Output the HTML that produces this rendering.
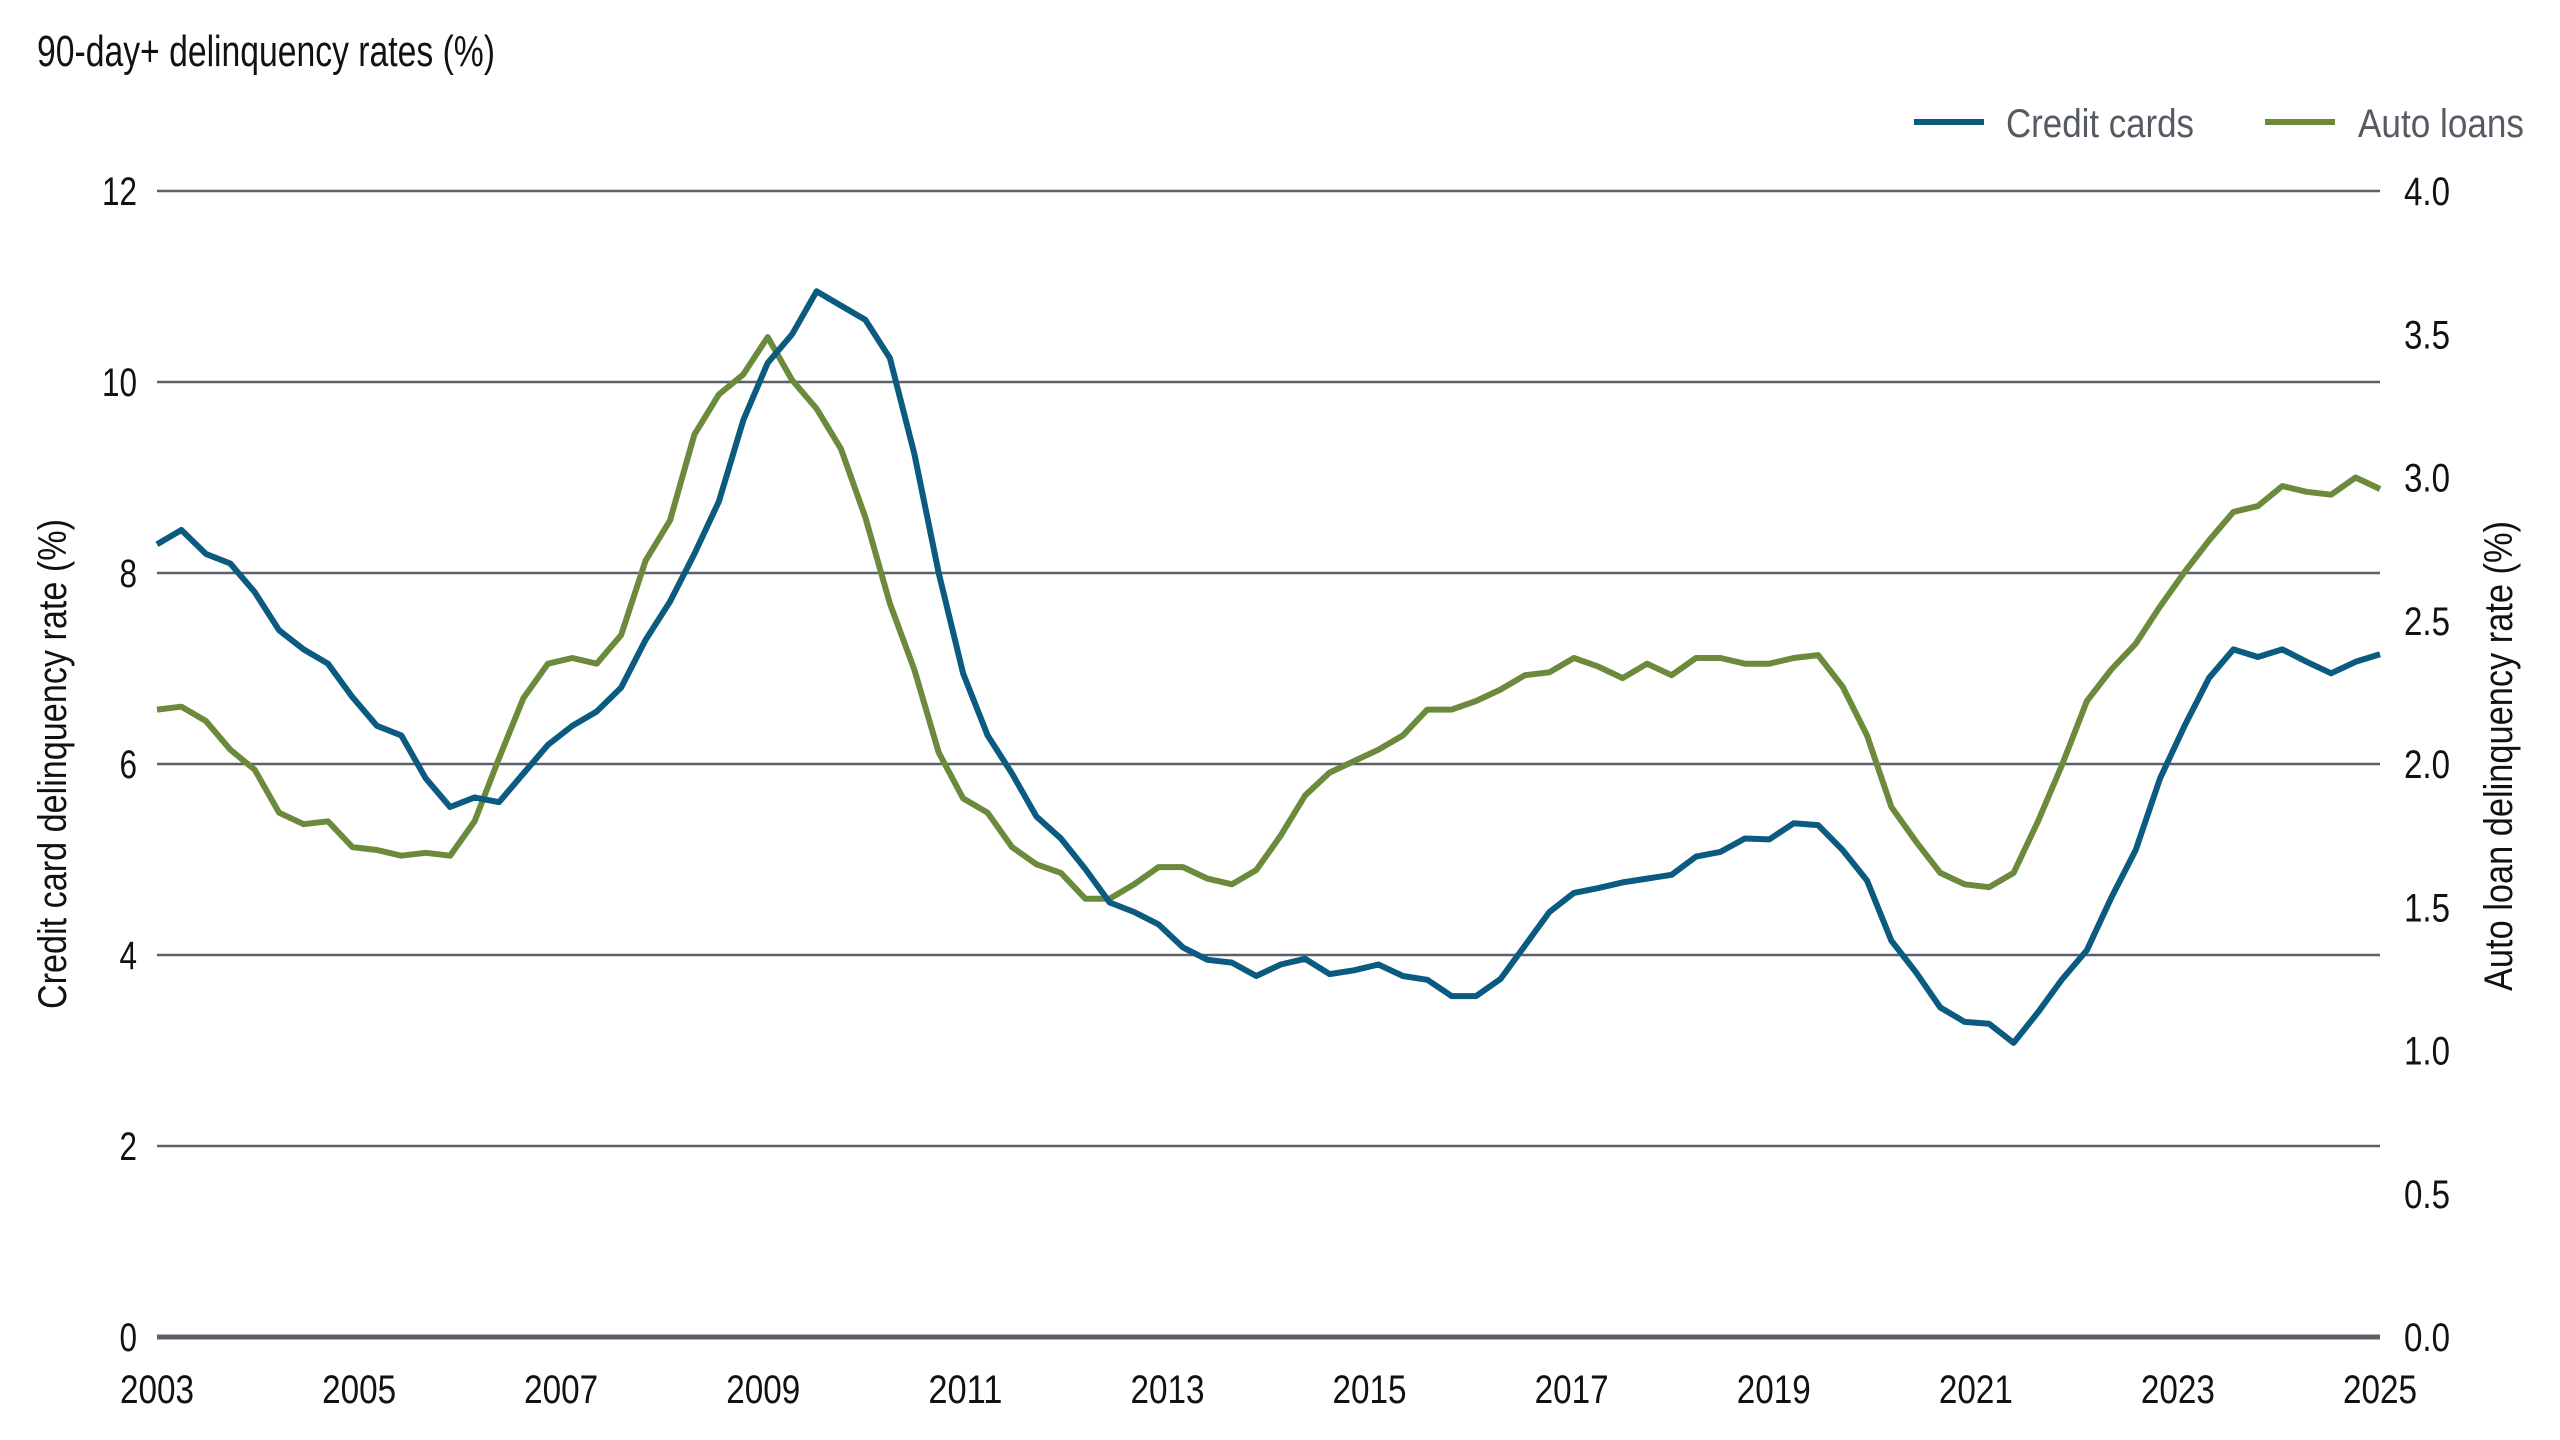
<!DOCTYPE html>
<html><head><meta charset="utf-8"><style>
html,body{margin:0;padding:0;background:#fff;}
svg{display:block;font-family:"Liberation Sans",sans-serif;}
</style></head><body>
<svg id="chart" width="2560" height="1440" viewBox="0 0 2560 1440" xmlns="http://www.w3.org/2000/svg">
<text x="37" y="66" font-size="44" fill="#111" textLength="458" lengthAdjust="spacingAndGlyphs">90-day+ delinquency rates (%)</text>
<g>
<line x1="1914" y1="122" x2="1984" y2="122" stroke="#0b5a80" stroke-width="6"/>
<text x="2006" y="137" font-size="40" fill="#555a63" textLength="188" lengthAdjust="spacingAndGlyphs">Credit cards</text>
<line x1="2265" y1="122" x2="2335" y2="122" stroke="#6b8a3c" stroke-width="6"/>
<text x="2358" y="137" font-size="40" fill="#555a63" textLength="166" lengthAdjust="spacingAndGlyphs">Auto loans</text>
</g>
<text transform="translate(66,764) rotate(-90)" text-anchor="middle" font-size="40" fill="#111" textLength="490" lengthAdjust="spacingAndGlyphs">Credit card delinquency rate (%)</text>
<text transform="translate(2512,756) rotate(-90)" text-anchor="middle" font-size="40" fill="#111" textLength="470" lengthAdjust="spacingAndGlyphs">Auto loan delinquency rate (%)</text>
<g id="grid"></g><g id="series"></g><g id="labels"></g>
</svg>
<script>
const leftTicks = [0,2,4,6,8,10,12];
const rightTicks = ["0.0","0.5","1.0","1.5","2.0","2.5","3.0","3.5","4.0"];
const yearLabels = [2003,2005,2007,2009,2011,2013,2015,2017,2019,2021,2023,2025];
const creditCards = [8.3,8.45,8.2,8.1,7.8,7.4,7.2,7.05,6.7,6.4,6.3,5.85,5.55,5.65,5.6,5.9,6.2,6.4,6.55,6.8,7.3,7.7,8.2,8.75,9.6,10.2,10.5,10.95,
10.8,10.65,10.25,9.25,8.0,6.95,6.3,5.9,5.45,5.22,4.9,4.55,4.45,4.32,4.08,3.95,3.92,3.78,3.9,3.96,3.8,3.84,3.9,3.78,3.74,3.57,3.57,3.75,4.1,4.45,4.65,4.7,4.76,4.8,4.84,5.03,5.08,5.22,5.21,5.38,5.36,5.1,4.78,4.15,3.82,3.45,3.3,3.28,3.08,
3.4,3.75,4.05,4.6,5.1,5.85,6.4,6.9,7.2,7.12,7.2,7.07,6.95,7.07,7.15];
const autoLoans = [2.19,2.2,2.15,2.05,1.98,1.83,1.79,1.8,1.71,1.7,1.68,1.69,1.68,1.8,2.02,2.23,2.35,2.37,2.35,2.45,2.71,2.85,3.15,3.29,3.36,3.49,3.34,3.24,3.1,2.86,2.56,2.33,2.04,1.88,1.83,1.71,1.65,1.62,1.53,1.53,1.58,1.64,1.64,1.6,1.58,1.63,1.75,1.89,1.97,2.01,2.05,2.1,2.19,2.19,2.22,2.26,2.31,2.32,2.37,2.34,2.3,2.35,2.31,2.37,2.37,2.35,2.35,2.37,2.38,2.27,2.1,1.85,1.73,1.62,1.58,1.57,1.62,1.8,2.0,2.22,2.33,2.42,2.55,2.67,2.78,2.88,2.9,2.97,2.95,2.94,3.0,2.96];
const NS="http://www.w3.org/2000/svg";
const X0=157,X1=2380,Y0=1337,Y12=191;
const xYear=y=>X0+(y-2003)/22*(X1-X0);
const yL=v=>Y0-v/12*(Y0-Y12);
const yR=v=>Y0-v/4*(Y0-Y12);
const xIdx=(i,n)=>X0+i/(n-1)*(X1-X0);
function mk(tag,attrs,parent,txt){const e=document.createElementNS(NS,tag);for(const k in attrs)e.setAttribute(k,attrs[k]);if(txt!==undefined)e.textContent=txt;parent.appendChild(e);return e;}
const grid=document.getElementById('grid'),labels=document.getElementById('labels'),series=document.getElementById('series');
leftTicks.forEach(v=>{
  const l=mk('line',{x1:X0,x2:X1,y1:yL(v),y2:yL(v),stroke:'#5d6068','stroke-width':v===0?5:2.5},grid);
  
  
  const s=String(v);
  const t=mk('text',{x:137,y:yL(v)+14,'text-anchor':'end','font-size':40,fill:'#111',textLength:17.5*s.length,lengthAdjust:'spacingAndGlyphs'},labels,s);
  
  
});
rightTicks.forEach(s=>{
  const t=mk('text',{x:2404,y:yR(parseFloat(s))+14,'font-size':40,fill:'#111',textLength:46,lengthAdjust:'spacingAndGlyphs'},labels,s);
  
  
});
yearLabels.forEach(y=>{
  const t=mk('text',{x:xYear(y),y:1403,'text-anchor':'middle','font-size':40,fill:'#111',textLength:74,lengthAdjust:'spacingAndGlyphs'},labels,String(y));
  
  
});
function line(data,yf,color,name){
  const pts=data.map((v,i)=>xIdx(i,data.length).toFixed(1)+','+yf(v).toFixed(1)).join(' ');
  const p=mk('polyline',{points:pts,fill:'none',stroke:color,'stroke-width':6,'stroke-linejoin':'round'},series);
  
  
}
line(autoLoans,yR,'#6b8a3c','auto-loans-line');
line(creditCards,yL,'#0b5a80','credit-cards-line');
</script>
</body></html>
